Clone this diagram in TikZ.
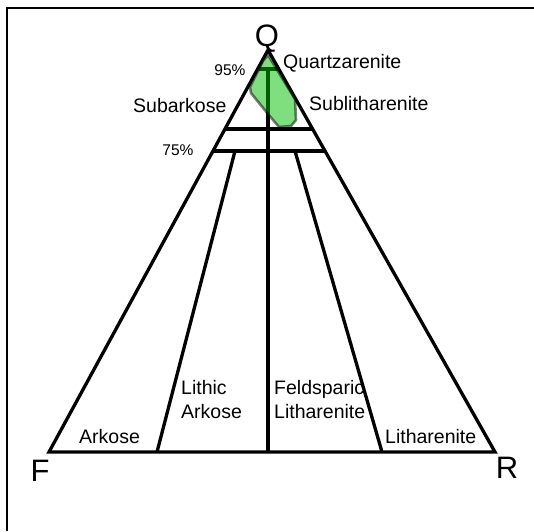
\documentclass[tikz,border=0pt]{standalone}
\usepackage{fontspec}
\setmainfont{Liberation Sans}
\usepackage{tikz}
\definecolor{zoneline}{HTML}{000000}
\definecolor{sampfill}{RGB}{0,192,0}
\tikzset{
  edge/.style={draw=zoneline, line width=3.3pt, line join=miter},
  frameline/.style={draw=black, line width=2.2pt},
  apexlbl/.style={font=\fontsize{31}{31}\selectfont, inner sep=0pt},
  pctlbl/.style={font=\fontsize{15.5}{16}\selectfont, inner sep=0pt},
  classlbl/.style={font=\fontsize{19.5}{23.5}\selectfont, inner sep=0pt, align=left},
  sampzone/.style={draw=black, draw opacity=0.5, line width=2.6pt,
    fill=sampfill, fill opacity=0.5, line join=round},
}

\begin{document}
\begin{tikzpicture}[x=1pt, y=-1pt]
  \useasboundingbox (0,0) rectangle (534,531);

  % frame
  \draw[frameline] (7,531) -- (7,8) -- (534,8);

  % corners of the ternary
  \coordinate (q) at (268,50);
  \coordinate (f) at (49,452);
  \coordinate (r) at (495,452);

  % cross lines
  \coordinate (q95) at (268,69);
  \coordinate (l20) at (225,129);
  \coordinate (r20) at (313,129);
  \coordinate (l75) at (213,151);
  \coordinate (r75) at (325,151);

  \draw[edge] (q) -- (r) -- (f) -- cycle;
  \draw[edge] (l20) -- (r20);
  \draw[edge] (l75) -- (r75);
  \draw[edge] (259,69) -- (278,69);
  \draw[edge] (q95) -- (268,452);
  \draw[edge] (235,151) -- (157,452);
  \draw[edge] (295,151) -- (382,452);

  % sample field
  \path[sampzone] (268,55) -- (290,91) -- (295,99) -- (296,120) -- (291,126)
    -- (279,127) -- (268,114) -- (251,93) -- (250,87) -- (263,61) -- cycle;

  % labels
  \node[apexlbl, anchor=base] (lq) at (267,46) {Q};
  \node[apexlbl, anchor=base] (lf) at (40,481) {F};
  \node[apexlbl, anchor=base] (lr) at (507,478) {R};
  \node[pctlbl, anchor=base] (p95) at (230,75) {95\%};
  \node[pctlbl, anchor=base] (p75) at (178,155) {75\%};
  \node[classlbl, anchor=base west] (qa) at (283,68) {Quartzarenite};
  \node[classlbl, anchor=base west] (sa) at (133,112) {Subarkose};
  \node[classlbl, anchor=base west] (sl) at (309,110) {Sublitharenite};
  \node[classlbl, anchor=base west] (ak) at (79,443) {Arkose};
  \node[classlbl, anchor=base west] (la) at (181,418) {Lithic\\Arkose};
  \node[classlbl, anchor=base west] (fl) at (274,418) {Feldsparic\\Litharenite};
  \node[classlbl, anchor=base west] (li) at (385,443) {Litharenite};
\end{tikzpicture}
\end{document}
